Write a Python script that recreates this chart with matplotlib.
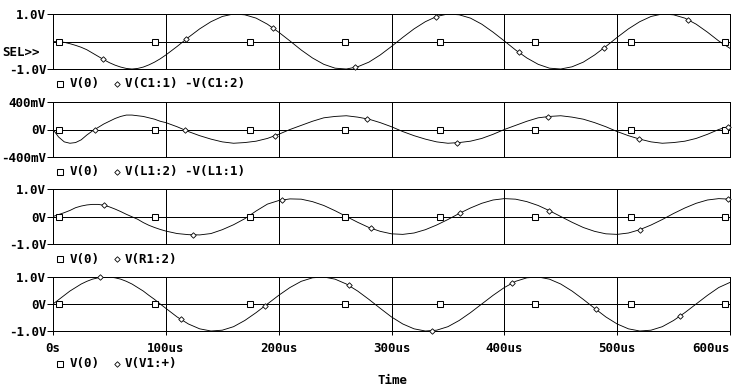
import matplotlib
matplotlib.use("Agg")
import matplotlib.pyplot as plt
from matplotlib.lines import Line2D
import numpy as np

# ---------------- data (time in microseconds, values in volts) ----------------
time_us = list(range(0, 101, 5)) + list(range(110, 601, 10))

v_c1 = [0.00, -0.01, -0.03, -0.08, -0.14, -0.21, -0.30, -0.42, -0.54, -0.66, -0.77,
        -0.86, -0.93, -0.98, -1.00, -0.98, -0.93, -0.85, -0.75, -0.63, -0.49,
        -0.18, 0.15, 0.46, 0.72, 0.91, 1.00, 0.97, 0.85, 0.63, 0.34,
        0.02, -0.31, -0.60, -0.83, -0.97, -1.00, -0.92, -0.75, -0.49, -0.18,
        0.15, 0.46, 0.72, 0.91, 1.00, 0.97, 0.85, 0.63, 0.34, 0.02,
        -0.31, -0.60, -0.83, -0.97, -1.00, -0.92, -0.75, -0.49, -0.18, 0.15,
        0.46, 0.72, 0.91, 1.00, 0.97, 0.85, 0.63, 0.34, 0.02, -0.25]

v_l1 = [0.00, -0.11, -0.18, -0.20, -0.19, -0.15, -0.08, -0.02, 0.03, 0.08, 0.12,
        0.16, 0.19, 0.21, 0.21, 0.20, 0.19, 0.17, 0.15, 0.12, 0.10,
        0.04, -0.03, -0.09, -0.14, -0.18, -0.20, -0.19, -0.17, -0.13, -0.07,
        0.00, 0.06, 0.12, 0.17, 0.19, 0.20, 0.18, 0.15, 0.10, 0.04,
        -0.03, -0.09, -0.14, -0.18, -0.20, -0.19, -0.17, -0.13, -0.07, 0.00,
        0.06, 0.12, 0.17, 0.19, 0.20, 0.18, 0.15, 0.10, 0.04, -0.03,
        -0.09, -0.14, -0.18, -0.20, -0.19, -0.17, -0.13, -0.07, 0.00, 0.05]

v_r1 = [0.00, 0.07, 0.14, 0.22, 0.32, 0.38, 0.42, 0.44, 0.44, 0.41, 0.35,
        0.27, 0.18, 0.08, -0.01, -0.10, -0.22, -0.32, -0.40, -0.47, -0.53,
        -0.62, -0.66, -0.67, -0.62, -0.48, -0.30, -0.08, 0.20, 0.45, 0.58,
        0.64, 0.63, 0.54, 0.40, 0.21, 0.00, -0.21, -0.40, -0.54, -0.63,
        -0.65, -0.60, -0.48, -0.31, -0.11, 0.11, 0.31, 0.48, 0.60, 0.65,
        0.63, 0.54, 0.40, 0.21, 0.00, -0.21, -0.40, -0.54, -0.63, -0.65,
        -0.60, -0.48, -0.31, -0.11, 0.11, 0.31, 0.48, 0.60, 0.65, 0.63]

v_v1 = [0.00, 0.16, 0.32, 0.48, 0.61, 0.74, 0.84, 0.92, 0.97, 1.00, 1.00,
        0.97, 0.92, 0.84, 0.74, 0.61, 0.48, 0.32, 0.17, 0.00, -0.16,
        -0.48, -0.74, -0.92, -1.00, -0.97, -0.84, -0.61, -0.32, 0.00, 0.32,
        0.61, 0.84, 0.97, 1.00, 0.92, 0.74, 0.48, 0.17, -0.16, -0.48,
        -0.74, -0.92, -1.00, -0.97, -0.84, -0.61, -0.32, 0.00, 0.32, 0.61,
        0.84, 0.97, 1.00, 0.92, 0.74, 0.48, 0.17, -0.16, -0.48, -0.74,
        -0.92, -1.00, -0.97, -0.84, -0.61, -0.32, 0.00, 0.32, 0.61, 0.80]

# V(0) reference trace (ground) and its marker times
v0_t = [0, 600]
v0 = [0.0, 0.0]
v0_marker_t = [5, 90, 175, 259, 343, 427, 512, 596]

# marker times of the diamond symbols on each trace
c1_marker_t = [44, 118, 195, 268, 339, 413, 488, 563]
l1_marker_t = [37, 117, 197, 278, 358, 439, 519, 598]
r1_marker_t = [45, 124, 203, 282, 361, 440, 520, 598]
v1_marker_t = [42, 113, 188, 262, 336, 407, 481, 556]

trace_names = ["V(C1:1) -V(C1:2)", "V(L1:2) -V(L1:1)", "V(R1:2)", "V(V1:+)"]
y_limits = [(-1.0, 1.0), (-0.4, 0.4), (-1.0, 1.0), (-1.0, 1.0)]
y_tick_vals = [[-1.0, 1.0], [-0.4, 0.0, 0.4], [-1.0, 0.0, 1.0], [-1.0, 0.0, 1.0]]
y_tick_labels = [["-1.0V", "1.0V"], ["-400mV", "0V", "400mV"],
                 ["-1.0V", "0V", "1.0V"], ["-1.0V", "0V", "1.0V"]]
x_ticks_us = [0, 100, 200, 300, 400, 500, 600]
x_tick_labels = ["0s", "100us", "200us", "300us", "400us", "500us", "600us"]
x_label = "Time"

series = [v_c1, v_l1, v_r1, v_v1]
marker_times = [c1_marker_t, l1_marker_t, r1_marker_t, v1_marker_t]

# ---------------- layout ----------------
W, H = 734, 387
FONT = dict(family="DejaVu Sans Mono", weight="bold", size=9)
plt.rcParams["lines.antialiased"] = False
LW = 0.72

fig = plt.figure(figsize=(W / 100, H / 100), dpi=100)
fig.patch.set_facecolor("white")

panel_px = [(14, 69), (102, 157), (189, 244), (277, 331)]
legend_y = [84, 172, 259, 364]
left_px, right_px = 53, 730


def fx(x):
    return x / W


def fy(y):
    return 1 - y / H


for i, (top, bot) in enumerate(panel_px):
    ax = fig.add_axes([fx(left_px), fy(bot), (right_px - left_px) / W, (bot - top) / H])
    ax.set_xlim(0, 600)
    ax.set_ylim(*y_limits[i])
    for s in ax.spines.values():
        s.set_linewidth(LW)
        s.set_color("black")
    for xv in x_ticks_us[1:-1]:
        ax.axvline(xv, color="black", lw=LW, zorder=1)
    # V(0)
    ax.plot(v0_t, v0, color="black", lw=LW, zorder=2)
    ax.plot(v0_marker_t, np.zeros(len(v0_marker_t)), ls="none", marker="s", ms=4.2,
            mfc="white", mec="black", mew=0.75, zorder=4, clip_on=False)
    # trace
    ax.plot(time_us, series[i], color="black", lw=0.62, zorder=3, antialiased=True)
    mt = marker_times[i]
    ax.plot(mt, np.interp(mt, time_us, series[i]), ls="none", marker="D", ms=2.8,
            mfc="white", mec="black", mew=0.6, zorder=4, clip_on=False)

    ax.set_yticks(y_tick_vals[i])
    ax.set_yticklabels(y_tick_labels[i], fontdict=FONT)
    ax.tick_params(axis="y", direction="out", length=4.3, width=LW, pad=0.5)
    if i == 3:
        ax.set_xticks(x_ticks_us)
        ax.set_xticklabels(x_tick_labels, fontdict=FONT)
        ax.tick_params(axis="x", direction="out", length=3, width=LW, pad=5)
        ax.get_xticklabels()[-1].set_horizontalalignment("right")
        ax.get_xticklabels()[-1].set_x(600)
    else:
        ax.set_xticks([])

    # legend row
    ly = legend_y[i]
    fig.add_artist(Line2D([fx(60)], [fy(ly)], marker="s", ms=4.0, mfc="white",
                          mec="black", mew=0.75, ls="none", transform=fig.transFigure))
    fig.text(fx(70), fy(ly), "V(0)", ha="left", va="center", fontdict=FONT)
    fig.add_artist(Line2D([fx(117)], [fy(ly)], marker="D", ms=2.8, mfc="white",
                          mec="black", mew=0.6, ls="none", transform=fig.transFigure))
    fig.text(fx(125), fy(ly), trace_names[i], ha="left", va="center", fontdict=FONT)

fig.text(fx(2), fy(53), "SEL>>", ha="left", va="center", fontdict=FONT)
fig.text(fx(393), fy(380), x_label, ha="center", va="center", fontdict=FONT)

fig.savefig("out.png", dpi=100, facecolor="white")
